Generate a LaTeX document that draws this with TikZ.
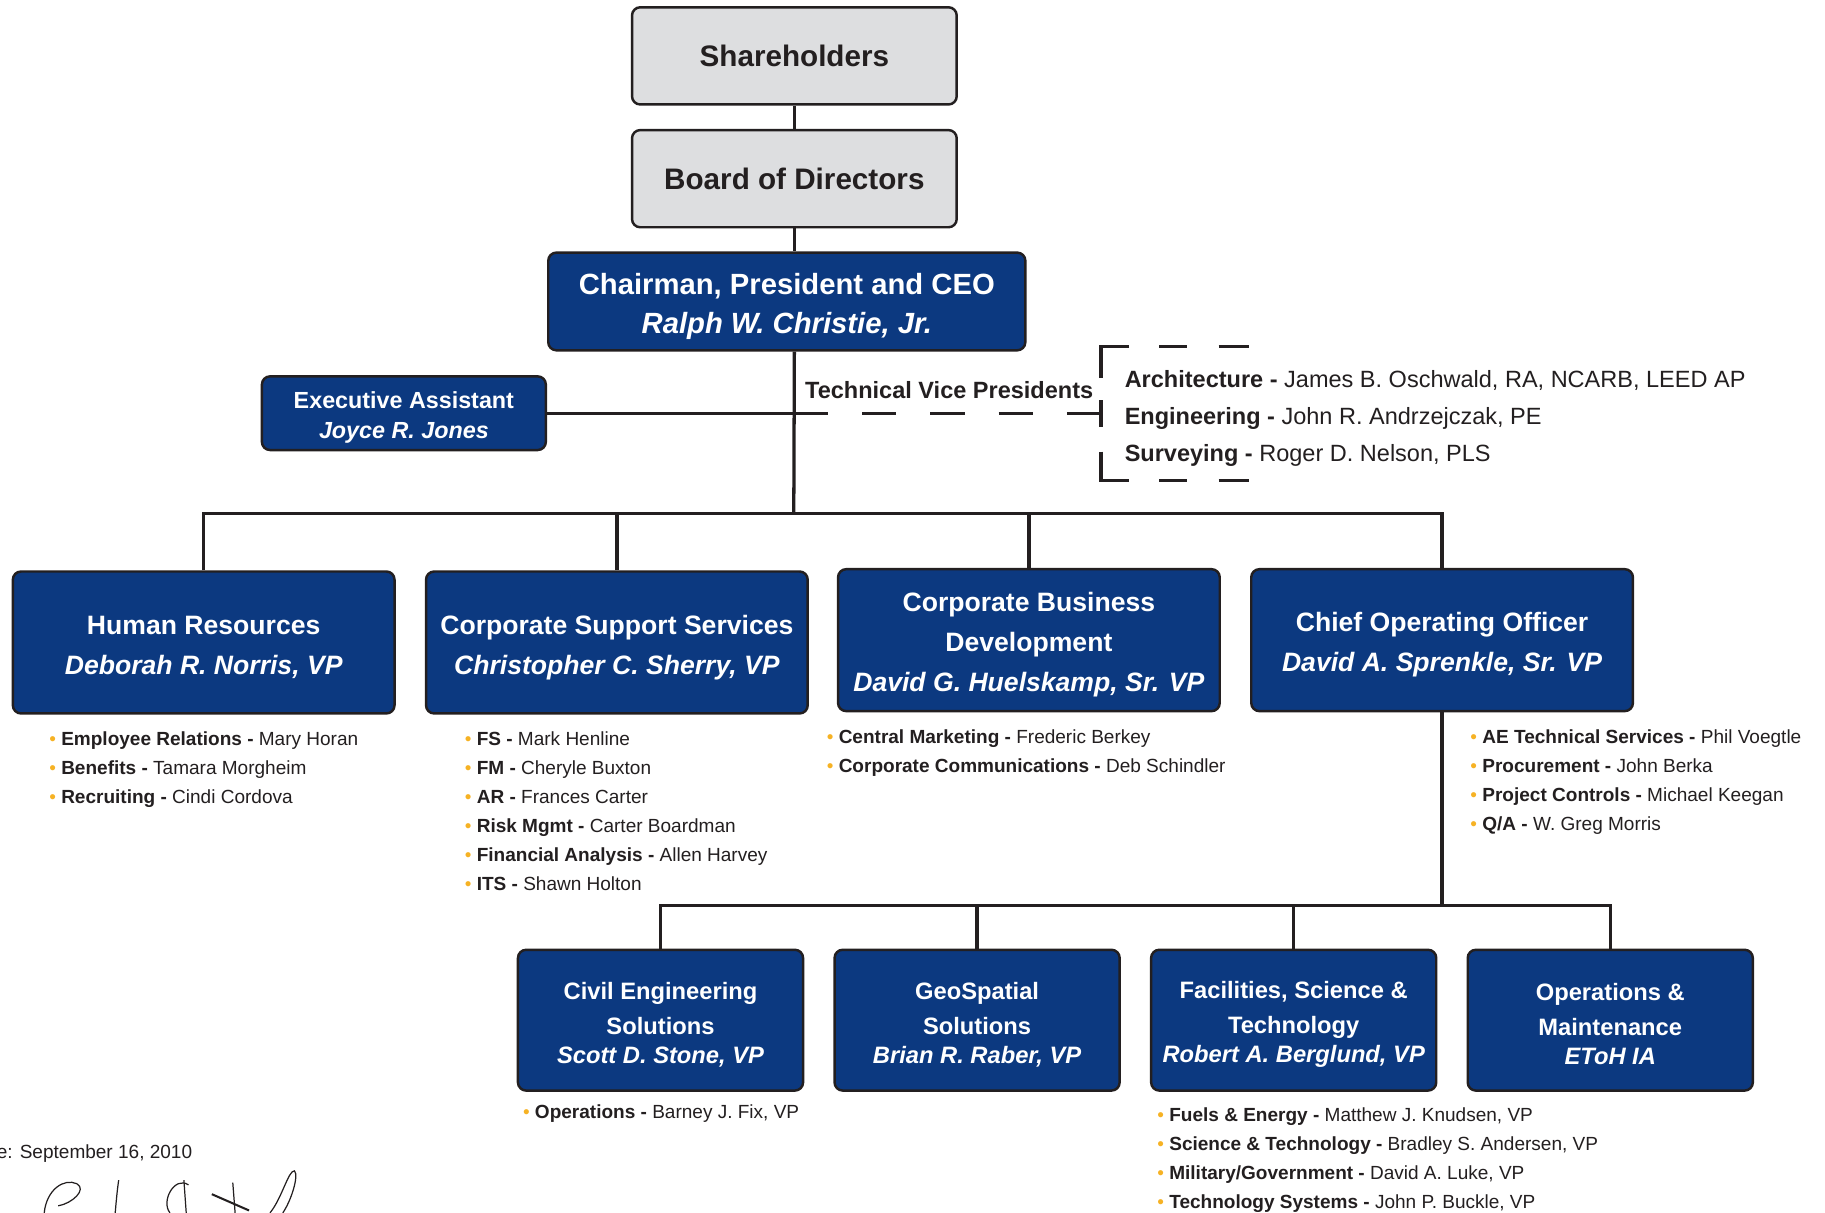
\documentclass[tikz,border=0pt]{standalone}
\usepackage{fontspec}
\setmainfont{Liberation Sans}

\definecolor{navy}{RGB}{12,57,128}
\definecolor{boxgray}{RGB}{221,222,224}
\definecolor{ink}{RGB}{35,31,32}
\definecolor{dotc}{RGB}{246,178,36}

\newcommand{\bitem}[2]{{\color{dotc}\textbullet}\hspace{2.6pt}\textbf{#1 -} #2}
\newcommand{\tstrut}{\rule{0pt}{1.08em}}

\begin{document}
\begin{tikzpicture}
[
    x=0.02cm, y=-0.02cm,
    link/.style={draw=ink, line width=1.6pt},
    greybox/.style={shape=rectangle, rounded corners=4pt, draw=ink, line width=1.2pt, fill=boxgray, text=ink, minimum width=5.58cm, minimum height=1.67cm, font=\fontsize{14.5}{17}\selectfont\bfseries},
    bluebox/.style={shape=rectangle, rounded corners=4pt, draw=ink, line width=1.2pt, fill=navy, text=white, align=center, font=\bfseries},
    ceobox/.style={bluebox, minimum width=8.2cm, minimum height=1.68cm, font=\fontsize{14.3}{19.3}\selectfont\bfseries},
    eabox/.style={bluebox, minimum width=4.88cm, minimum height=1.26cm, font=\fontsize{11.4}{14.7}\selectfont\bfseries},
    unitbox/.style={bluebox, minimum width=6.56cm, minimum height=2.44cm, font=\fontsize{13}{19.5}\selectfont\bfseries},
    subbox/.style={bluebox, minimum width=4.9cm, minimum height=2.42cm, font=\fontsize{11.6}{17}\selectfont\bfseries},
    list/.style={anchor=north west, inner sep=0pt, align=left, text=ink, font=\fontsize{9.3}{14.2}\selectfont},
]
\useasboundingbox (0,0) rectangle (1568,1042);

% top of the chart
\node(sh) at (682.5,48)[greybox]{Shareholders};
\node(bod) at (682.5,153.5)[greybox]{Board of Directors};
\node(ceo) at (676,259)[ceobox]{\tstrut Chairman, President and CEO\\\itshape Ralph W. Christie, Jr.};
\node(ea) at (347,355)[eabox]{\tstrut Executive Assistant\\\itshape Joyce R. Jones};

\draw[link] (sh) -- (bod);
\draw[link] (bod) -- (bod |- ceo.north);
\coordinate (hub) at (682,441);
\draw[link] (bod |- ceo.south) -- (hub);
\draw[link] (ea) -- (ea -| hub);

% technical vice presidents
\coordinate (tvp) at (946,355);
\draw[link, dash pattern=on 16.7pt off 16.7pt] (ea -| hub) -- (tvp);
\node(tvptitle) at (815.5,335)[inner sep=0pt, text=ink, font=\fontsize{11.5}{14}\selectfont\bfseries]{Technical Vice Presidents};
\node(tvplist) at (966,359.5)[anchor=west, inner sep=0pt, align=left, text=ink, font=\fontsize{11.5}{18.2}\selectfont]{%
\textbf{Architecture -} James B. Oschwald, RA, NCARB, LEED AP\\
\textbf{Engineering -} John R. Andrzejczak, PE\\
\textbf{Surveying -} Roger D. Nelson, PLS};
\draw[link] (tvp) ++(0,-11) -- ++(0,23);
\draw[link] (970,298) -- (946,298) -- (946,325);
\draw[link] (946,388) -- (946,413) -- (970,413);
\foreach \y in {298,413} {
    \draw[link] (996,\y) -- (1020,\y);
    \draw[link] (1047,\y) -- (1073,\y);
}

% second level
\node(hr) at (175,552)[unitbox]{\tstrut Human Resources\\\itshape Deborah R. Norris, VP};
\node(css) at (530,552)[unitbox]{\tstrut Corporate Support Services\\\itshape Christopher C. Sherry, VP};
\node(cbd) at (884,550)[unitbox]{\tstrut Corporate Business\\Development\\\itshape David G. Huelskamp, Sr. VP};
\node(coo) at (1239,550)[unitbox]{\tstrut Chief Operating Officer\\\itshape David A. Sprenkle, Sr. VP};

\draw[link] (hr.north) -- (hr.north |- hub) -- (coo.north |- hub) -- (coo.north);
\draw[link] (css.north) -- (css.north |- hub);
\draw[link] (cbd.north) -- (cbd.north |- hub);

\node(hrlist) at (42,628.5)[list]{%
\bitem{Employee Relations}{Mary Horan}\\
\bitem{Benefits}{Tamara Morgheim}\\
\bitem{Recruiting}{Cindi Cordova}};
\node(csslist) at (399,628.5)[list]{%
\bitem{FS}{Mark Henline}\\
\bitem{FM}{Cheryle Buxton}\\
\bitem{AR}{Frances Carter}\\
\bitem{Risk Mgmt}{Carter Boardman}\\
\bitem{Financial Analysis}{Allen Harvey}\\
\bitem{ITS}{Shawn Holton}};
\node(cbdlist) at (710,626.5)[list]{%
\bitem{Central Marketing}{Frederic Berkey}\\
\bitem{Corporate Communications}{Deb Schindler}};
\node(coolist) at (1263,626.5)[list]{%
\bitem{AE Technical Services}{Phil Voegtle}\\
\bitem{Procurement}{John Berka}\\
\bitem{Project Controls}{Michael Keegan}\\
\bitem{Q/A}{W. Greg Morris}};

% third level
\node(ces) at (567.5,876.5)[subbox]{\tstrut Civil Engineering\\Solutions\\[-2.8pt]\itshape Scott D. Stone, VP};
\node(geo) at (839.5,876.5)[subbox]{\tstrut GeoSpatial\\Solutions\\[-2.8pt]\itshape Brian R. Raber, VP};
\node(fst) at (1111.5,876.5)[subbox]{\tstrut Facilities, Science \&\\Technology\\[-2.8pt]\itshape Robert A. Berglund, VP};
\node(om) at (1383.5,876.5)[subbox]{\tstrut Operations \&\\Maintenance\\[-2.8pt]\itshape EToH IA};

\coordinate (hub2) at (1239,778);
\draw[link] (coo) -- (hub2);
\draw[link] (ces.north) -- (ces.north |- hub2) -- (om.north |- hub2) -- (om.north);
\draw[link] (geo.north) -- (geo.north |- hub2);
\draw[link] (fst.north) -- (fst.north |- hub2);

\node(ceslist) at (449,949)[list]{\bitem{Operations}{Barney J. Fix, VP}};
\node(fstlist) at (994,951)[list]{%
\bitem{Fuels \& Energy}{Matthew J. Knudsen, VP}\\
\bitem{Science \& Technology}{Bradley S. Andersen, VP}\\
\bitem{Military/Government}{David A. Luke, VP}\\
\bitem{Technology Systems}{John P. Buckle, VP}};

% date and signature
\node(date) at (-3,991)[anchor=west, inner sep=0pt, text=ink, font=\fontsize{9.3}{12}\selectfont]{e: September 16, 2010};
\draw[ink, line width=0.6pt] (38,1042) .. controls (40,1022) and (55,1012) .. (66,1017) .. controls (75,1022) and (62,1034) .. (50,1036);
\draw[ink, line width=0.6pt] (99,1042) .. controls (100,1030) and (101,1020) .. (102,1014);
\draw[ink, line width=0.6pt] (162,1018) .. controls (150,1010) and (138,1032) .. (146,1042);
\draw[ink, line width=0.6pt] (158,1014) -- (160,1042);
\draw[ink, line width=1pt] (182,1026) -- (214,1040);
\draw[ink, line width=0.6pt] (200,1016) -- (202,1042);
\draw[ink, line width=0.6pt] (232,1042) .. controls (242,1030) and (248,1005) .. (253,1006) .. controls (257,1010) and (250,1032) .. (243,1042);
\end{tikzpicture}
\end{document}
